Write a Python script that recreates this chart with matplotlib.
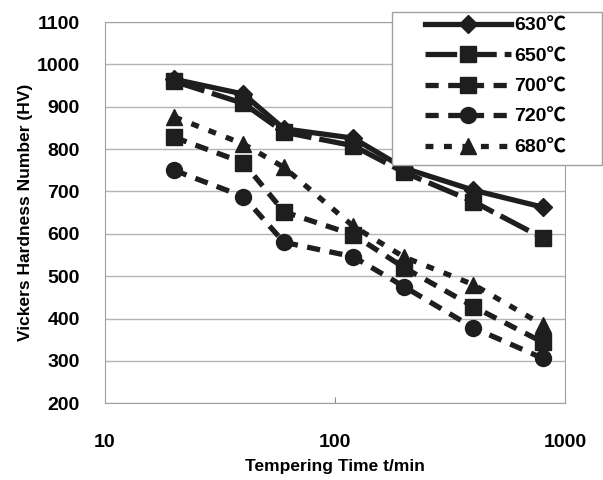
import matplotlib
matplotlib.use("Agg")
import matplotlib.pyplot as plt
from matplotlib.patches import Rectangle

plt.rcParams['font.family'] = ['Liberation Sans', 'Noto Sans CJK JP', 'DejaVu Sans']
plt.rcParams['font.weight'] = 'bold'
plt.rcParams['axes.labelweight'] = 'bold'

# tempering time (min)
times = [20, 40, 60, 120, 200, 400, 800]

# hardness (HV)
hv_630 = [965, 930, 848, 826, 755, 703, 663]
hv_650 = [960, 908, 840, 808, 745, 676, 590]
hv_700 = [828, 768, 652, 598, 520, 428, 344]
hv_720 = [750, 688, 580, 546, 475, 378, 306]
hv_680 = [876, 812, 757, 618, 545, 480, 385]

labels = ['630℃', '650℃', '700℃', '720℃', '680℃']
yticks = list(range(200, 1101, 100))
xticks = [10, 100, 1000]

col = '#1e1e1e'
fig = plt.figure(figsize=(6.03, 4.80), dpi=100)
ax = fig.add_axes([0.174, 0.160, 0.763, 0.794])

lw = 3.8
ax.plot(times, hv_630, '-', marker='D', ms=9.5, color=col, lw=lw, label=labels[0])
ax.plot(times, hv_650, '--', marker='s', ms=11.5, color=col, lw=lw, dashes=(6, 1.5), label=labels[1])
ax.plot(times, hv_700, '--', marker='s', ms=11.5, color=col, lw=lw, dashes=(2.5, 1.8), label=labels[2])
ax.plot(times, hv_720, '--', marker='o', ms=11.5, color=col, lw=lw, dashes=(2.5, 1.8), label=labels[3])
ax.plot(times, hv_680, '--', marker='^', ms=11.5, color=col, lw=lw, dashes=(1.5, 2.0), label=labels[4])

ax.set_xscale('log')
ax.set_xlim(10, 1000)
ax.set_ylim(200, 1100)
ax.set_yticks(yticks)
ax.set_yticklabels([str(v) for v in yticks], fontsize=14, fontweight='heavy')
ax.set_xticks(xticks)
ax.set_xticklabels([str(v) for v in xticks], fontsize=14, fontweight='heavy')
ax.minorticks_off()
ax.tick_params(axis='y', length=0, pad=18)
ax.tick_params(axis='x', direction='in', length=4, color='#888888', pad=22)
ax.grid(axis='y', color='#b4b4b4', lw=1)
ax.set_axisbelow(True)
for s in ax.spines.values():
    s.set_color('#a0a0a0')

ax.set_xlabel('Tempering Time t/min', fontsize=12.5, fontweight='bold', labelpad=6)
ax.set_ylabel('Vickers Hardness Number (HV)', fontsize=12.5, fontweight='bold', labelpad=3)

# legend frame: wide box like the original
fig.patches.append(Rectangle((392 / 603, 1 - 165 / 480), 210 / 603, 153 / 480,
                             transform=fig.transFigure, facecolor='white',
                             edgecolor='#a0a0a0', lw=1, zorder=5))
leg = fig.legend(loc='upper left', bbox_to_anchor=(425 / 603, 1 - 17 / 480), fontsize=14,
                 handlelength=4.4, labelspacing=0.66, borderpad=0, borderaxespad=0,
                 handletextpad=0.2, frameon=False)
leg.set_zorder(6)
for t in leg.get_texts():
    t.set_fontweight('bold')

fig.savefig('out.png', dpi=100)
